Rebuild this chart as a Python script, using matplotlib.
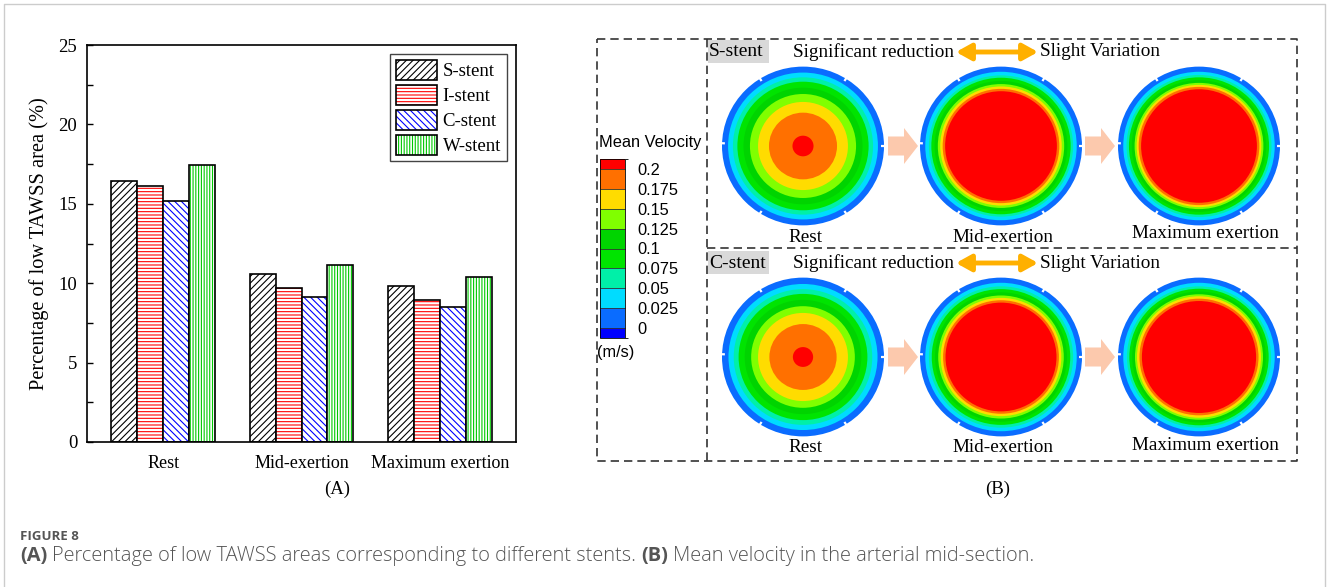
import numpy as np
import matplotlib
matplotlib.use("Agg")
import matplotlib.pyplot as plt
from matplotlib.patches import Ellipse, Rectangle, FancyArrow
from matplotlib.colors import ListedColormap, BoundaryNorm
import matplotlib.colorbar as mcb

W, H = 1328, 587
plt.rcParams["font.family"] = ["Liberation Serif", "DejaVu Serif"]
plt.rcParams["hatch.linewidth"] = 0.8

# (A) percentage of low TAWSS area
CONDITIONS = ["Rest", "Mid-exertion", "Maximum exertion"]
STENTS = ["S-stent", "I-stent", "C-stent", "W-stent"]
S_STENT = [16.45, 10.55, 9.85]
I_STENT = [16.1, 9.7, 8.95]
C_STENT = [15.2, 9.15, 8.5]
W_STENT = [17.45, 11.15, 10.4]
HATCHES = ["/////", "-----", "\\\\\\\\\\", "||||||"]
HATCH_COLORS = ["#000000", "#ff0000", "#0000ff", "#00c800"]

# (B) mean velocity levels
LEVELS = [-0.0125, 0, 0.025, 0.05, 0.075, 0.1, 0.125, 0.15, 0.175, 0.2, 0.2125]
TICKS = [0, 0.025, 0.05, 0.075, 0.1, 0.125, 0.15, 0.175, 0.2]
TICK_LABELS = ["0", "0.025", "0.05", "0.075", "0.1", "0.125", "0.15", "0.175", "0.2"]
CB_COLORS = ["#0000ff", "#0a6cff", "#00dcff", "#00f0a8", "#00e400", "#00d400",
             "#80ff00", "#ffdc00", "#ff7000", "#ff0000"]
# outer radius of each velocity band (wall band -> core), fraction of wall radius
REST_S = [1.0, 0.925, 0.865, 0.81, 0.735, 0.655, 0.555, 0.42, 0.13]
MID_S = [1.0, 0.935, 0.89, 0.86, 0.82, 0.78, 0.75, 0.72, 0.69]
MAX_S = [1.0, 0.935, 0.895, 0.865, 0.83, 0.795, 0.77, 0.745, 0.715]
REST_C = [1.0, 0.92, 0.855, 0.795, 0.72, 0.64, 0.555, 0.415, 0.125]
MID_C = [1.0, 0.935, 0.89, 0.855, 0.815, 0.775, 0.745, 0.715, 0.685]
MAX_C = [1.0, 0.935, 0.89, 0.86, 0.825, 0.79, 0.765, 0.735, 0.705]
STRUT_ANGLES = [0, 58, 122, 178, 238, 302]

fig = plt.figure(figsize=(W / 100, H / 100), dpi=100)

# ---- (A) bar chart
ax = fig.add_axes([87 / W, 1 - 442 / H, 429 / W, 397 / H])
x = np.arange(1, len(CONDITIONS) + 1)
bw = 0.1875
handles = []
for k, vals in enumerate([S_STENT, I_STENT, C_STENT, W_STENT]):
    pos = x + (k - 1.5) * bw
    hb = ax.bar(pos, vals, bw, facecolor="white", edgecolor=HATCH_COLORS[k],
                hatch=HATCHES[k], linewidth=0)
    ob = ax.bar(pos, vals, bw, fill=False, edgecolor="black", linewidth=1.2)
    handles.append((hb[0], ob[0]))
ax.set_xlim(0.45, 3.55)
ax.set_ylim(0, 25)
ax.set_xticks(x)
ax.set_xticklabels(CONDITIONS, fontsize=13)
ax.set_yticks(np.arange(0, 26, 5))
ax.set_yticks(np.arange(2.5, 25, 5), minor=True)
ax.tick_params(axis="y", which="both", direction="in", length=4, width=1, labelsize=13.5, pad=7)
ax.tick_params(axis="x", length=0, pad=9)
for s in ax.spines.values():
    s.set_linewidth(1.2)
ax.set_ylabel("Percentage of low TAWSS area (%)", fontsize=14.7, labelpad=7)
leg = ax.legend(handles, STENTS, loc="upper right", fontsize=13.5, handlelength=2.2,
                handleheight=1.25, labelspacing=0.25, handletextpad=0.3, borderpad=0.3,
                borderaxespad=0.5, fancybox=False, framealpha=1, edgecolor="#444")
leg.get_frame().set_linewidth(1)

# ---- overlay in pixel coordinates
ov = fig.add_axes([0, 0, 1, 1])
ov.set_xlim(0, W)
ov.set_ylim(H, 0)
ov.axis("off")
ov.patch.set_visible(False)

# outer figure frame
ov.plot([4, 4, 1325, 1325], [H, 4, 4, H], color="#cccccc", lw=1)

dash = dict(color="#333333", lw=1.2, linestyle=(0, (5, 3)))
ov.plot([597, 1297, 1297, 597, 597], [39, 39, 461, 461, 39], **dash)
ov.plot([707, 707], [39, 461], **dash)
ov.plot([707, 1297], [248, 248], **dash)

ov.text(337, 489, "(A)", ha="center", va="center", fontsize=13.5)
ov.text(998, 489, "(B)", ha="center", va="center", fontsize=13.5)

# colorbar
cax = fig.add_axes([600 / W, 1 - 338 / H, 25 / W, 179 / H])
cb = mcb.ColorbarBase(cax, cmap=ListedColormap(CB_COLORS),
                      norm=BoundaryNorm(LEVELS, len(CB_COLORS)), boundaries=LEVELS,
                      ticks=TICKS, spacing="proportional", drawedges=True)
cb.set_ticklabels(TICK_LABELS)
cb.outline.set_linewidth(0.6)
cb.dividers.set_linewidth(0.6)
cb.dividers.set_color("#333333")
cax.tick_params(length=0, pad=9, labelsize=11.8)
for t in cax.get_yticklabels():
    t.set_family(["Liberation Sans", "DejaVu Sans"])
    t.set_verticalalignment("center_baseline")
ov.text(599, 143, "Mean Velocity", ha="left", va="center", fontsize=11.8,
        family=["Liberation Sans", "DejaVu Sans"])
ov.text(597, 352, "(m/s)", ha="left", va="center", fontsize=11.8,
        family=["Liberation Sans", "DejaVu Sans"])

# velocity discs
CX = [803, 1001, 1199]
ROWS = [(146, "S-stent", [REST_S, MID_S, MAX_S]), (357, "C-stent", [REST_C, MID_C, MAX_C])]
R = 81
for cy, name, discs in ROWS:
    for cx, radii, lab in zip(CX, discs, CONDITIONS):
        for rr, col in zip(radii, CB_COLORS[1:]):
            ov.add_patch(Ellipse((cx, cy), 2 * R * rr, 2 * R * rr * 0.98, color=col, lw=0))
        for a in STRUT_ANGLES:
            t = np.deg2rad(a)
            ov.plot([cx + 0.965 * R * np.cos(t), cx + 1.02 * R * np.cos(t)],
                    [cy - 0.965 * R * 0.98 * np.sin(t), cy - 1.02 * R * 0.98 * np.sin(t)],
                    color="white", lw=1.6, solid_capstyle="butt")
        ov.text(cx + (2 if lab != "Maximum exertion" else 6), cy + 91 - (3 if lab == "Maximum exertion" else 0),
                lab, ha="center", va="center", fontsize=13.8)
    for x0 in (888, 1085):
        ov.add_patch(FancyArrow(x0, cy, 30, 0, width=19, head_width=36, head_length=14,
                                length_includes_head=True, color="#fcc9ad", lw=0))
    hy = cy - 94
    ov.add_patch(Rectangle((708, hy - 12), 61, 23, color="#d9d9d9", lw=0))
    ov.text(709, hy, name, ha="left", va="center", fontsize=14)
    ov.text(954, hy, "Significant reduction", ha="right", va="center", fontsize=13.8)
    ov.annotate("", xy=(1038, hy), xytext=(956, hy),
                arrowprops=dict(arrowstyle="<|-|>,head_length=0.9,head_width=0.5",
                                color="#ffb000", lw=3.5, shrinkA=0, shrinkB=0))
    ov.text(1040, hy, "Slight Variation", ha="left", va="center", fontsize=13.8)

# caption
cap = dict(family=["Open Sans", "DejaVu Sans"], color="#555555")
fig.text(20 / W, 1 - 537 / H, "FIGURE 8", fontsize=9.5, weight="bold", va="center", **cap)
t1 = fig.text(20 / W, 1 - 561 / H, "(A)", fontsize=14.4, weight="bold", va="baseline", **cap)
t2 = ov.annotate("Percentage of low TAWSS areas corresponding to different stents.", xy=(1, 0),
                 xycoords=t1, xytext=(5, 0), textcoords="offset pixels", fontsize=14.4,
                 weight="light", va="bottom", **cap)
t3 = ov.annotate("(B)", xy=(1, 0), xycoords=t2, xytext=(5, 0), textcoords="offset pixels",
                 fontsize=14.4, weight="bold", va="bottom", **cap)
ov.annotate("Mean velocity in the arterial mid-section.", xy=(1, 0), xycoords=t3, xytext=(5, 0),
            textcoords="offset pixels", fontsize=14.4, weight="light", va="bottom", **cap)

fig.savefig("out.png", dpi=100)
